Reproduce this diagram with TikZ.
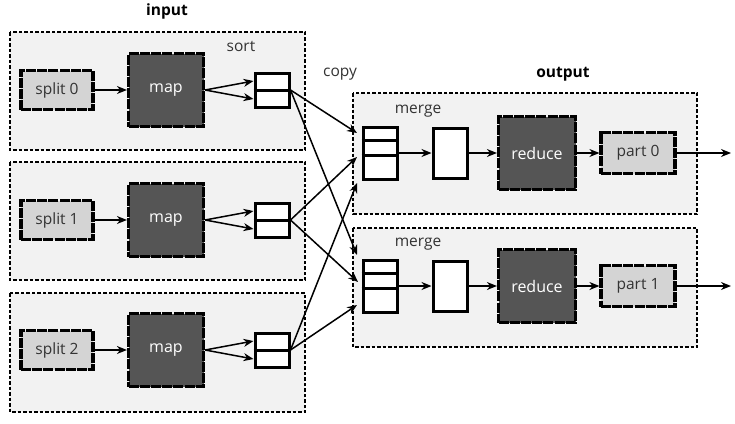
\documentclass[tikz,border=0pt]{standalone}
\usepackage{fontspec}
\setmainfont{Open Sans}
\usetikzlibrary{arrows.meta,calc}

\definecolor{groupgray}{HTML}{F2F2F2}
\definecolor{lightbox}{HTML}{D4D4D4}
\definecolor{darkbox}{HTML}{555555}
\definecolor{labelgray}{HTML}{333333}

\tikzset{
  group/.style={draw=black,fill=groupgray,line width=1.4pt,dash pattern=on 3.5pt off 2pt},
  splitbox/.style={draw=black,fill=lightbox,line width=3.2pt,dash pattern=on 10pt off 1.2pt,
    minimum width=72pt,minimum height=39pt,text=labelgray,font=\fontsize{15.5}{18}\selectfont},
  workbox/.style={draw=black,fill=darkbox,line width=3.2pt,dash pattern=on 10pt off 1.2pt,
    minimum width=75pt,minimum height=73pt,text=white,font=\fontsize{16}{18}\selectfont},
  cellbox/.style={draw=black,fill=white,line width=3pt,minimum width=34pt},
  cell/.style={line width=3pt},
  flow/.style={line width=1.5pt,-{Stealth[length=10pt,width=8pt]}},
  tag/.style={text=labelgray,font=\fontsize{15.5}{18}\selectfont},
  title/.style={text=black,font=\fontsize{15.5}{18}\selectfont\bfseries}
}

\begin{document}
\begin{tikzpicture}[x=1pt,y=-1pt]
\useasboundingbox (0,0) rectangle (735,423);

% input side
\draw[group] (10,32) rectangle (305,150);
\draw[group] (10,162) rectangle (305,280);
\draw[group] (10,293) rectangle (305,412);
\node[title] (input) at (167,11) {input};
\node[tag] (sortlabel) at (241,46) {sort};

\foreach \i/\y in {0/90,1/220,2/350}{
  \node[splitbox] (split\i) at (57,\y) {split \i};
  \node[workbox] (map\i) at (166,\y) {map};
  \node[cellbox,minimum height=34pt] (sort\i) at (272,\y) {};
  \draw[cell] (sort\i.west) -- (sort\i.east);
  \draw[flow] (split\i) -- (map\i);
  \draw[flow] (map\i.east) -- ($(sort\i.west)+(0,-9)$);
  \draw[flow] (map\i.east) -- ($(sort\i.west)+(0,9)$);
}

% output side
\draw[group] (353,93) rectangle (697,214);
\draw[group] (353,228) rectangle (697,347);
\node[tag] (copylabel) at (340,74) {copy};
\node[title] (output) at (563,74) {output};

\foreach \i/\y in {0/153,1/286}{
  \node[tag] (mergelabel\i) at (418,\y-42) {merge};
  \node[cellbox,minimum height=52pt] (merge\i) at (380,\y) {};
  \draw[cell] ($(merge\i.north west)+(0,15)$) -- ($(merge\i.north east)+(0,15)$);
  \draw[cell] ($(merge\i.north west)+(0,30)$) -- ($(merge\i.north east)+(0,30)$);
  \node[cellbox,minimum height=50pt] (sorted\i) at (450,\y) {};
  \node[workbox,minimum width=77pt] (reduce\i) at (537,\y) {reduce};
  \node[splitbox,minimum width=74pt,minimum height=41pt] (part\i) at (638,\y) {part \i};
  \coordinate (out\i) at (731,\y);
  \draw[flow] (merge\i) -- (sorted\i);
  \draw[flow] (sorted\i) -- (reduce\i);
  \draw[flow] (reduce\i) -- (part\i);
  \draw[flow] (part\i) -- (out\i);
}

% copy
\coordinate (m0a) at (357,133);
\coordinate (m0b) at (357,157);
\coordinate (m0c) at (357,183);
\coordinate (m1a) at (357,255);
\coordinate (m1b) at (358,282);
\coordinate (m1c) at (357,305);
\draw[flow] (sort0.east) -- (m0a);
\draw[flow] (sort0.east) -- (m1a);
\draw[flow] (sort1.east) -- (m0b);
\draw[flow] (sort1.east) -- (m1b);
\draw[flow] (sort2.east) -- (m0c);
\draw[flow] (sort2.east) -- (m1c);
\end{tikzpicture}
\end{document}
